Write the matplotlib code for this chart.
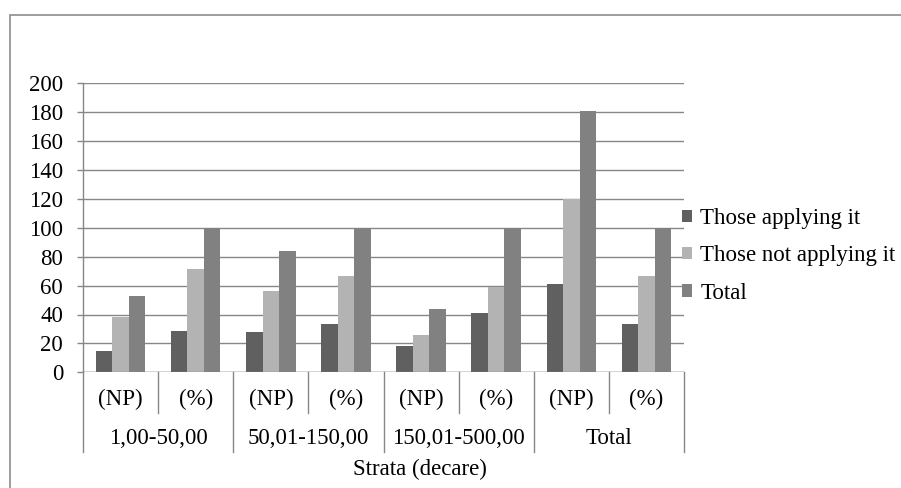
import matplotlib
matplotlib.use("Agg")
import matplotlib.pyplot as plt
from matplotlib.patches import Rectangle
import numpy as np

# Data
sub_labels = ["(NP)", "(%)", "(NP)", "(%)", "(NP)", "(%)", "(NP)", "(%)"]
strata = ["1,00-50,00", "50,01-150,00", "150,01-500,00", "Total"]
series_names = ["Those applying it", "Those not applying it", "Total"]
applying = [15, 28.3, 28, 33.3, 18, 40.9, 61, 33.7]
not_applying = [38, 71.7, 56, 66.7, 26, 59.1, 120, 66.3]
total = [53, 100, 84, 100, 44, 100, 181, 100]
y_ticks = list(range(0, 201, 20))
x_title = "Strata (decare)"

W, H = 901, 488
DPI = 100
plt.rcParams["font.family"] = ["Liberation Serif", "DejaVu Serif"]
FS = 16.5

fig = plt.figure(figsize=(W / DPI, H / DPI), dpi=DPI)

def fx(px):
    return px / W

def fy(py):
    return 1 - py / H

# plot area in pixels
L, R, T, B = 83, 684, 83.3, 372.3
ax = fig.add_axes([fx(L), fy(B), fx(R) - fx(L), fy(T) - fy(B)])

colors = ["#606060", "#b3b3b3", "#818181"]
bw = 0.22
x = np.arange(len(sub_labels)) + 0.5
handles = []
for i, (vals, c) in enumerate(zip([applying, not_applying, total], colors)):
    h = ax.bar(x + (i - 1) * bw, vals, width=bw, color=c, edgecolor="none",
               zorder=3, label=series_names[i])
    handles.append(h)

ax.set_xlim(0, len(sub_labels))
ax.set_ylim(0, 200)
ax.set_yticks(y_ticks)
ax.set_yticklabels([str(v) for v in y_ticks], fontsize=FS)
ax.tick_params(axis="y", length=4.3, width=1, color="#878787", pad=10)
ax.set_xticks([])
for s in ["top", "right", "bottom"]:
    ax.spines[s].set_visible(False)
ax.spines["left"].set_color("#878787")
ax.spines["left"].set_linewidth(1)
ax.yaxis.grid(True, color="#878787", linewidth=1, zorder=0)
ax.set_axisbelow(True)
ax.axhline(0, color="#878787", linewidth=1, zorder=4)

# category separators below the axis
ax_h = B - T
def ay(py):
    return (B - py) / ax_h

for k in range(len(sub_labels) + 1):
    end = 452 if k % 2 == 0 else 413
    ax.plot([k, k], [0, ay(end)], color="#878787", linewidth=1,
            transform=ax.get_xaxis_transform(), clip_on=False)

# sub-category labels
for k, lab in enumerate(sub_labels):
    px = L + (k + 0.5) * (R - L) / len(sub_labels)
    fig.text(fx(px), fy(399), lab, ha="center", va="center", fontsize=FS)

# strata labels
for k, lab in enumerate(strata):
    px = L + (2 * k + 1) * (R - L) / len(sub_labels)
    fig.text(fx(px), fy(439), lab, ha="center", va="center", fontsize=FS)

fig.text(fx(420), fy(469), x_title, ha="center", va="center", fontsize=FS)

# legend
ax.legend(handles=handles, labels=series_names, loc="center left",
          bbox_to_anchor=(fx(682), fy(256)), bbox_transform=fig.transFigure,
          frameon=False, fontsize=FS, handlelength=0.45, handleheight=0.45,
          handletextpad=0.35, labelspacing=0.7, borderpad=0, borderaxespad=0)

# chart frame
fig.patches.append(Rectangle((fx(9.7), -0.1), 1.2, fy(14.7) + 0.1,
                             transform=fig.transFigure, fill=False,
                             edgecolor="#8c8c8c", linewidth=1.2))

fig.savefig("out.png", dpi=DPI)
